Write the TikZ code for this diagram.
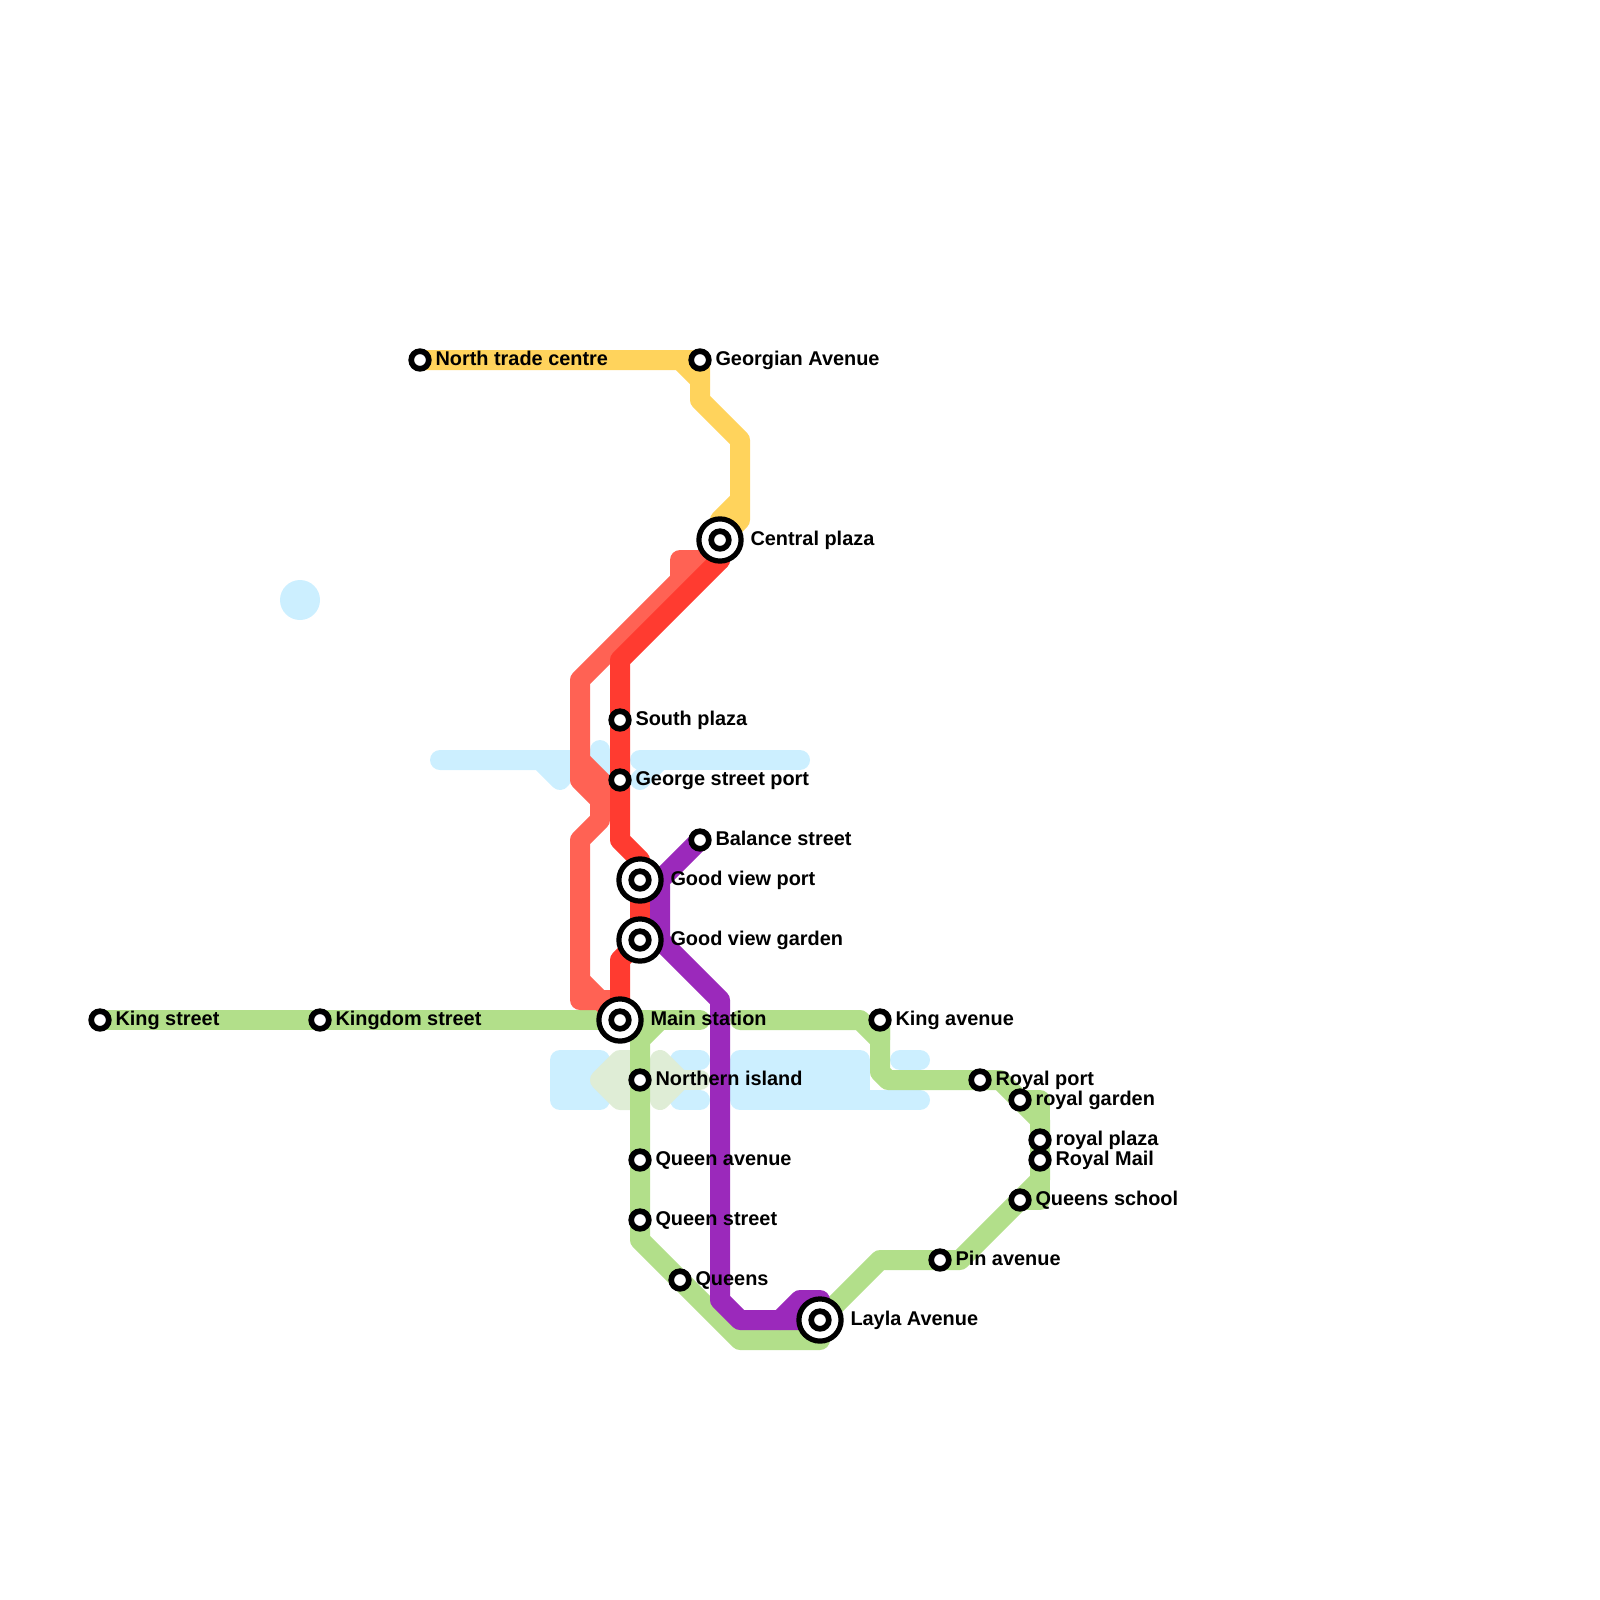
\documentclass[tikz,border=0pt]{standalone}
\usepackage{fontspec}
\setmainfont{Liberation Sans}
\pgfdeclarelayer{lines}
\pgfsetlayers{lines,main}
\definecolor{cwater}{HTML}{CCEFFF}
\definecolor{cpale}{HTML}{DFEDD6}
\definecolor{cgreen}{HTML}{B2DF8A}
\definecolor{cyellow}{HTML}{FFD35C}
\definecolor{corange}{HTML}{FF6254}
\definecolor{cred}{HTML}{FF3B30}
\definecolor{cpurple}{HTML}{9B29BB}
\tikzset{
  metro/.style={line width=20pt,line cap=round,line join=round},
  water/.style={metro,draw=cwater},
  waterfill/.style={metro,draw=cwater,fill=cwater},
  pale/.style={metro,draw=cpale,fill=cpale},
  gline/.style={metro,draw=cgreen},
  yline/.style={metro,draw=cyellow},
  oline/.style={metro,draw=corange},
  rline/.style={metro,draw=cred},
  pline/.style={metro,draw=cpurple},
  station/.style={circle,draw=black,fill=white,line width=5.7pt,minimum size=17.6pt,inner sep=0pt,outer sep=0pt},
  bigring/.style={circle,draw=black,fill=white,line width=5.2pt,minimum size=42.2pt,inner sep=0pt,outer sep=0pt},
  lab/.style={anchor=base west,inner sep=0pt,outer sep=0pt,font=\fontsize{19.9}{24}\selectfont\bfseries,text=black},
}
\begin{document}
\begin{tikzpicture}[x=1pt,y=-1pt]
\useasboundingbox (0,0) rectangle (1600,1600);
% stations
\node[station] (kingst) at (100,1020) {};
\node[station] (kingdom) at (320,1020) {};
\node[station] (north) at (420,360) {};
\node[station] (georgian) at (700,360) {};
\node[bigring] (centralring) at (720,540) {};
\node[station] (central) at (720,540) {};
\node[station] (south) at (620,720) {};
\node[station] (george) at (620,780) {};
\node[station] (balance) at (700,840) {};
\node[bigring] (gvpring) at (640,880) {};
\node[station] (gvp) at (640,880) {};
\node[bigring] (gvgring) at (640,940) {};
\node[station] (gvg) at (640,940) {};
\node[bigring] (mainring) at (620,1020) {};
\node[station] (main) at (620,1020) {};
\node[station] (kingav) at (880,1020) {};
\node[station] (northern) at (640,1080) {};
\node[station] (queenav) at (640,1160) {};
\node[station] (queenst) at (640,1220) {};
\node[station] (queens) at (680,1280) {};
\node[bigring] (laylaring) at (820,1320) {};
\node[station] (layla) at (820,1320) {};
\node[station] (pin) at (940,1260) {};
\node[station] (royalport) at (980,1080) {};
\node[station] (royalgarden) at (1020,1100) {};
\node[station] (royalplaza) at (1040,1140) {};
\node[station] (royalmail) at (1040,1160) {};
\node[station] (queensschool) at (1020,1200) {};
% labels
\node[lab] (l1) at (115.5,1025) {King street};
\node[lab] (l2) at (335.5,1025) {Kingdom street};
\node[lab] (l3) at (435.5,365) {North trade centre};
\node[lab] (l4) at (715.5,365) {Georgian Avenue};
\node[lab] (l5) at (750.5,545) {Central plaza};
\node[lab] (l6) at (635.5,725) {South plaza};
\node[lab] (l7) at (635.5,785) {George street port};
\node[lab] (l8) at (715.5,845) {Balance street};
\node[lab] (l9) at (670.5,885) {Good view port};
\node[lab] (l10) at (670.5,945) {Good view garden};
\node[lab] (l11) at (650.5,1025) {Main station};
\node[lab] (l12) at (895.5,1025) {King avenue};
\node[lab] (l13) at (655.5,1085) {Northern island};
\node[lab] (l14) at (655.5,1165) {Queen avenue};
\node[lab] (l15) at (655.5,1225) {Queen street};
\node[lab] (l16) at (695.5,1285) {Queens};
\node[lab] (l17) at (850.5,1325) {Layla Avenue};
\node[lab] (l18) at (955.5,1265) {Pin avenue};
\node[lab] (l19) at (995.5,1085) {Royal port};
\node[lab] (l20) at (1035.5,1105) {royal garden};
\node[lab] (l21) at (1055.5,1145) {royal plaza};
\node[lab] (l22) at (1055.5,1165) {Royal Mail};
\node[lab] (l23) at (1035.5,1205) {Queens school};
\begin{pgfonlayer}{lines}
% water
\fill[cwater] (300,600) circle (20);
\draw[waterfill] (440,760) -- (575,760) -- (560,780) -- (540,760) -- cycle;
\draw[water] (600,750) -- (600,790);
\draw[water] (640,760) -- (800,760);
\draw[water] (640,780) -- (660,760);
\draw[waterfill] (560,1060) -- (600,1060) -- (600,1100) -- (560,1100) -- cycle;
\draw[water] (680,1060) -- (700,1060);
\draw[water] (680,1100) -- (700,1100);
\draw[waterfill] (740,1060) -- (860,1060) -- (860,1100) -- (740,1100) -- cycle;
\draw[water] (900,1060) -- (920,1060);
\draw[water] (860,1100) -- (920,1100);
% pale land
\draw[pale] (620,1060) -- (600,1080) -- (620,1100) -- (640,1100) -- (640,1060) -- cycle;
\draw[pale] (660,1060) -- (680,1080) -- (660,1100) -- cycle;
\draw[pale] (660,1080) -- (700,1080);
% green line
\draw[gline] (kingst.center) -- (kingdom.center) -- (700,1020);
\draw[gline] (740,1020) -- (860,1020) -- (880,1040) -- (kingav.center);
\draw[gline] (kingav.center) -- (880,1072) -- (888,1080) -- (royalport.center) -- (1000,1080) -- (1040,1120) -- (royalplaza.center) -- (royalmail.center) -- (1040,1180) -- (960,1260) -- (pin.center) -- (880,1260) -- (layla.center) -- (820,1340) -- (740,1340) -- (queens.center) -- (640,1240) -- (queenst.center) -- (queenav.center) -- (northern.center) -- (640,1040) -- (660,1020);
\draw[gline] (royalgarden.center) -- (1040,1100) -- (royalplaza.center);
\draw[gline] (royalmail.center) -- (1040,1200) -- (queensschool.center);
% yellow line
\draw[yline] (north.center) -- (georgian.center) -- (700,400) -- (740,440) -- (740,520) -- (central.center);
\draw[yline] (680,360) -- (700,380);
\draw[yline] (740,500) -- (720,520) -- (central.center);
% orange line
\draw[oline] (central.center) -- (720,560) -- (680,560) -- (680,580) -- (580,680) -- (580,780) -- (600,800) -- (600,820) -- (580,840) -- (580,1000) -- (610,1000);
\draw[oline] (700,560) -- (680,580);
\draw[oline] (580,760) -- (610,790);
\draw[oline] (580,980) -- (main.center);
% red line
\draw[rline] (central.center) -- (720,560) -- (620,660) -- (south.center) -- (george.center) -- (620,840) -- (640,860) -- (gvp.center) -- (gvg.center) -- (620,960) -- (main.center);
% purple line
\draw[pline] (balance.center) -- (660,880) -- (660,940) -- (720,1000) -- (720,1300) -- (740,1320) -- (layla.center);
\draw[pline] (780,1320) -- (800,1300) -- (820,1300) -- (layla.center);
\end{pgfonlayer}
\end{tikzpicture}
\end{document}
